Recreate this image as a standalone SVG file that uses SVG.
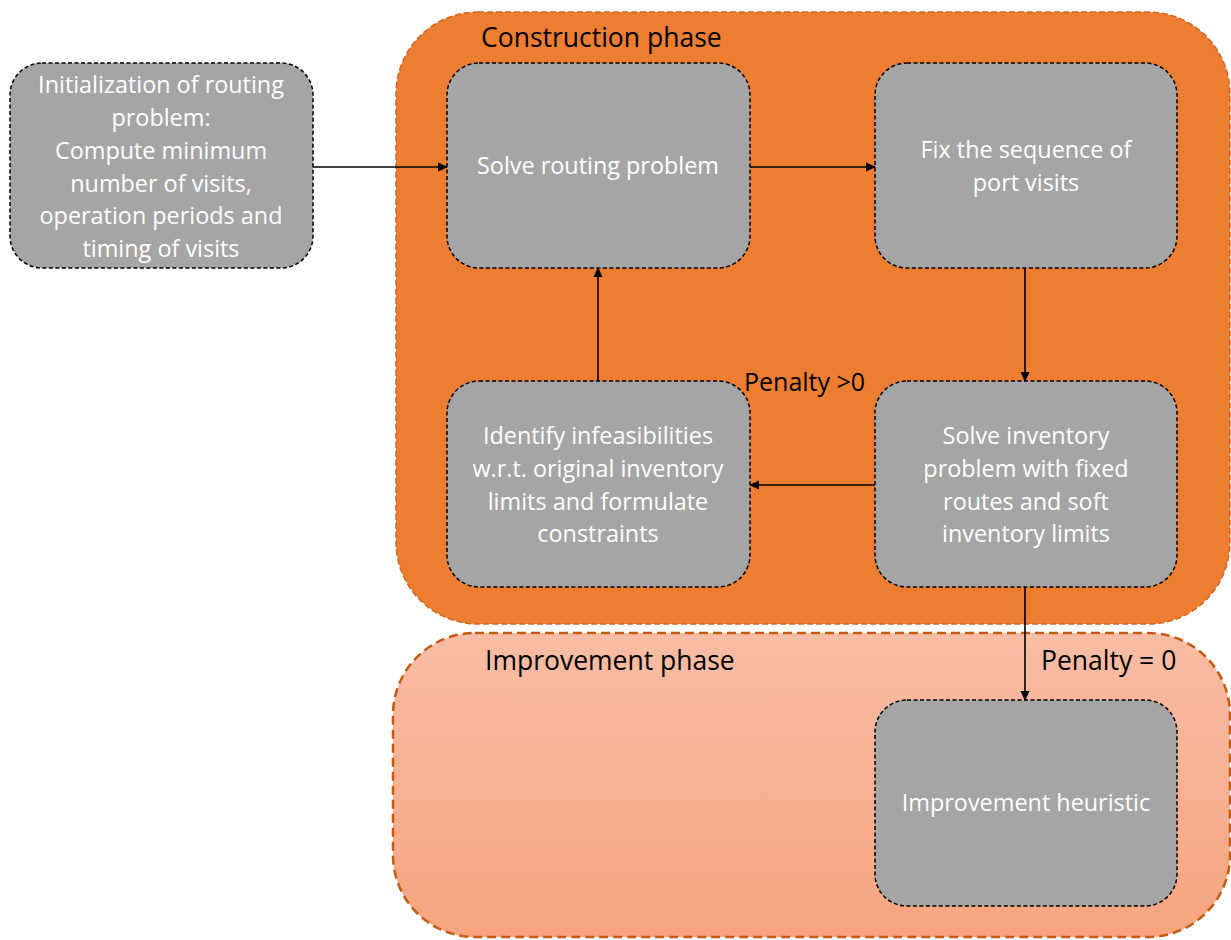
<svg xmlns="http://www.w3.org/2000/svg" width="1231" height="940" viewBox="0 0 1231 940">
<style>
.node{fill:#A5A5A5;stroke:#000;stroke-width:1.5;stroke-dasharray:4 2.5}
.nt{fill:#fff;font-family:"Open Sans","Noto Sans",sans-serif;font-size:23.4px;text-anchor:middle}
.lbl{fill:#000;font-family:"Open Sans","Noto Sans",sans-serif;font-size:26.5px}
.conn{stroke:#000;stroke-width:1.6;fill:none;marker-end:url(#ah)}
</style>
<defs>
<marker id="ah" markerWidth="10" markerHeight="10" refX="9" refY="5" orient="auto" markerUnits="userSpaceOnUse">
<path d="M0,0.5 L10,5 L0,9.5 z" fill="#000"/>
</marker>
<linearGradient id="imp" x1="0" y1="0" x2="0" y2="1">
<stop offset="0" stop-color="#F8BDA5"/>
<stop offset="1" stop-color="#F6A47F"/>
</linearGradient>
</defs>
<g id="construction-phase">
<rect x="396" y="12" width="834" height="612" rx="82" fill="#ED7D31" stroke="#D0651F" stroke-width="1.5" stroke-dasharray="6 3"/>
<text class="lbl" x="481" y="47">Construction phase</text>
</g>
<g id="improvement-phase">
<rect x="393" y="633" width="837" height="304" rx="82" fill="url(#imp)" stroke="#C55A11" stroke-width="2.5" stroke-dasharray="9 5"/>
<text class="lbl" x="485" y="670">Improvement phase</text>
</g>
<g id="init">
<rect class="node" x="10" y="63" width="303" height="205" rx="32"/>
<text class="nt" x="161" y="93">Initialization of routing</text>
<text class="nt" x="161" y="126">problem:</text>
<text class="nt" x="161" y="159">Compute minimum</text>
<text class="nt" x="161" y="192">number of visits,</text>
<text class="nt" x="161" y="224">operation periods and</text>
<text class="nt" x="161" y="257">timing of visits</text>
</g>
<g id="solve-routing">
<rect class="node" x="447" y="63" width="303" height="205" rx="32"/>
<text class="nt" x="598" y="174">Solve routing problem</text>
</g>
<g id="fix-sequence">
<rect class="node" x="875" y="63" width="302" height="205" rx="32"/>
<text class="nt" x="1026" y="158">Fix the sequence of</text>
<text class="nt" x="1026" y="191">port visits</text>
</g>
<g id="identify">
<rect class="node" x="447" y="381" width="303" height="206" rx="32"/>
<text class="nt" x="598" y="444">Identify infeasibilities</text>
<text class="nt" x="598" y="477">w.r.t. original inventory</text>
<text class="nt" x="598" y="510">limits and formulate</text>
<text class="nt" x="598" y="542">constraints</text>
</g>
<g id="solve-inventory">
<rect class="node" x="875" y="381" width="302" height="206" rx="32"/>
<text class="nt" x="1026" y="444">Solve inventory</text>
<text class="nt" x="1026" y="477">problem with fixed</text>
<text class="nt" x="1026" y="510">routes and soft</text>
<text class="nt" x="1026" y="542">inventory limits</text>
</g>
<g id="improvement-heuristic">
<rect class="node" x="875" y="700" width="302" height="206" rx="32"/>
<text class="nt" x="1026" y="811">Improvement heuristic</text>
</g>
<g id="connectors">
<line class="conn" x1="313" y1="167" x2="447" y2="167"/>
<line class="conn" x1="750" y1="167" x2="875" y2="167"/>
<line class="conn" x1="1025" y1="268" x2="1025" y2="381"/>
<line class="conn" x1="875" y1="485" x2="750" y2="485"/>
<line class="conn" x1="598" y1="381" x2="598" y2="268"/>
<line class="conn" x1="1025" y1="587" x2="1025" y2="700"/>
<text class="lbl" x="744" y="391" style="font-size:25px">Penalty &gt;0</text>
<text class="lbl" x="1041" y="670">Penalty = 0</text>
</g>
</svg>
